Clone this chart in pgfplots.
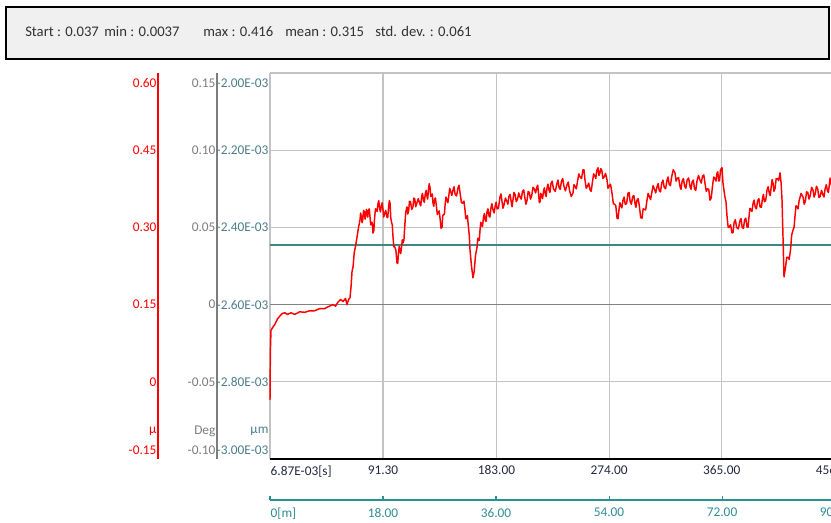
\documentclass[border=0pt]{standalone}
\usepackage{fontspec}
\setmainfont{Carlito}
\usepackage{pgfplots}
\pgfplotsset{compat=1.18}
\definecolor{gridc}{RGB}{195,195,195}
\definecolor{darkgrid}{RGB}{130,130,130}
\definecolor{tealline}{RGB}{62,135,135}
\definecolor{umc}{RGB}{75,125,140}
\definecolor{degc}{RGB}{125,125,125}
\definecolor{mteal}{RGB}{40,145,145}
\definecolor{mlab}{RGB}{50,140,150}
\definecolor{xlab}{RGB}{35,40,65}
\definecolor{hdrbg}{RGB}{240,240,240}
\definecolor{hdrtext}{RGB}{50,50,50}
\begin{document}
\begin{tikzpicture}
\useasboundingbox (0,0) rectangle (623.25pt,-392.25pt);
\draw[line width=1.5pt, fill=hdrbg] (4.5pt,-5.25pt) rectangle (621.75pt,-44.6pt);
\begin{scope}[every node/.style={anchor=base west, inner sep=0pt, font=\fontsize{11}{13}\selectfont, text=hdrtext}]
\node at (18.75pt,-27.75pt) {Start : 0.037};
\node at (78pt,-27.75pt) {min : 0.0037};
\node at (152.25pt,-27.75pt) {max : 0.416};
\node at (213.75pt,-27.75pt) {mean : 0.315};
\node at (281.25pt,-27.75pt) {std. dev. : 0.061};
\end{scope}
% red scale
\begin{axis}[at={(118.5pt,-344.25pt)}, anchor=south west, scale only axis,
  width=1pt, height=289.5pt, xmin=0, xmax=1, ymin=-0.15, ymax=0.6,
  axis x line=none, axis y line=left,
  axis line style={-, draw=red, line width=1.2pt},
  ytick={-0.1325,-0.0956,0,0.15,0.3,0.45,0.5806},
  yticklabels={-0.15,μ,0,0.15,0.30,0.45,0.60},
  yticklabel style={text=red, font=\fontsize{10}{12}\selectfont, inner xsep=1pt},
  major tick length=0pt, ytick style={draw=none}]
\end{axis}
% degree scale
\begin{axis}[at={(162.75pt,-344.25pt)}, anchor=south west, scale only axis,
  width=1pt, height=289.5pt, xmin=0, xmax=1, ymin=-0.15, ymax=0.6,
  axis x line=none, axis y line=left,
  axis line style={-, draw=degc, line width=0.9pt},
  ytick={-0.1325,-0.0956,0,0.15,0.3,0.45,0.5806},
  yticklabels={-0.10,Deg,-0.05,0,0.05,0.10,0.15},
  yticklabel style={text=degc, font=\fontsize{10}{12}\selectfont, inner xsep=1pt},
  major tick length=0pt, ytick style={draw=none}]
\end{axis}
% main axis
\begin{axis}[at={(202.5pt,-344.25pt)}, anchor=south west, scale only axis,
  width=427pt, height=289.5pt, xmin=0, xmax=460, ymin=-0.15, ymax=0.6,
  clip=false, axis line style={draw=none}, major tick length=0pt,
  tick style={draw=none},
  xtick={91.3,183,274,365,456},
  xticklabels={91.30,183.00,274.00,365.00,456.00},
  extra x ticks={0}, extra x tick labels={6.87E-03[s]},
  extra x tick style={xticklabel style={anchor=north west, xshift=-3pt}, xmajorgrids=false},
  xmajorgrids, major grid style={gridc, line width=0.9pt},
  xticklabel style={text=xlab, font=\fontsize{10}{12}\selectfont, yshift=-1.5pt},
  ytick={-0.1325,-0.0956,0,0.15,0.3,0.45,0.5806},
  yticklabels={-3.00E-03,μm,-2.80E-03,-2.60E-03,-2.40E-03,-2.20E-03,-2.00E-03},
  yticklabel style={text=umc, font=\fontsize{10}{12}\selectfont, inner xsep=1pt}]
\addplot[gridc, line width=0.9pt] coordinates {(0,0.6)(460,0.6)};
\addplot[gridc, line width=0.9pt] coordinates {(0,0.45)(460,0.45)};
\addplot[gridc, line width=0.9pt] coordinates {(0,0.3)(460,0.3)};
\addplot[gridc, line width=0.9pt] coordinates {(0,0)(460,0)};
\addplot[gridc, line width=0.9pt] coordinates {(0,-0.15)(0,0.6)};
\addplot[darkgrid, line width=1.3pt] coordinates {(0,0.15)(460,0.15)};
\addplot[black, line width=1.1pt] coordinates {(0,-0.15)(460,-0.15)};
\addplot[tealline, line width=1.2pt] coordinates {(0,0.266)(460,0.266)};
\addplot[red, line width=1.1pt, line join=round] table[row sep=\\] {
x y\\
0 -0.035\\ 0.3 0.06\\ 0.8 0.100\\ 2 0.105\\ 4 0.112\\ 6 0.122\\ 8 0.128\\ 10 0.133\\
12 0.134\\ 14 0.131\\ 17 0.134\\ 20 0.131\\ 24 0.136\\ 28 0.135\\ 32 0.138\\ 36 0.138\\
40 0.142\\ 44 0.142\\ 48 0.147\\ 51 0.150\\ 53 0.147\\ 55 0.155\\ 57 0.160\\ 59 0.156\\
61 0.162\\ 62.2 0.150\\ 63.5 0.160\\ 64.6 0.163\\ 65.5 0.185\\ 66.3 0.215\\ 67.1 0.223\\
68 0.250\\ 69 0.262\\ 70.3 0.281\\ 71.5 0.300\\ 72.7 0.314\\ 73.2 0.328\\ 73.8 0.322\\
74.4 0.309\\ 75 0.316\\ 75.6 0.333\\ 76.2 0.330\\ 76.8 0.316\\ 77.3 0.322\\ 77.9 0.335\\
78.4 0.328\\ 79 0.320\\ 79.5 0.333\\ 80.2 0.336\\ 80.8 0.320\\ 81.4 0.305\\ 82 0.310\\
82.6 0.309\\ 83.2 0.289\\ 83.9 0.294\\ 84.5 0.318\\ 85.2 0.336\\ 85.8 0.335\\ 86.5 0.331\\
87.3 0.347\\ 87.9 0.352\\ 88.5 0.338\\ 89.2 0.330\\ 90 0.342\\ 90.6 0.348\\ 91.3 0.334\\
91.9 0.320\\ 92.5 0.326\\ 93.5 0.333\\ 94.5 0.320\\ 95.1 0.319\\ 95.8 0.338\\ 96.4 0.352\\
97 0.347\\ 97.6 0.318\\ 98.2 0.310\\ 98.8 0.305\\ 99.4 0.281\\ 100.1 0.262\\ 100.8 0.262\\
101.7 0.256\\ 102.6 0.231\\ 103.2 0.230\\ 103.8 0.250\\ 104.4 0.263\\ 105 0.256\\ 105.6 0.249\\
106.3 0.262\\ 106.9 0.276\\ 107.5 0.270\\ 108.2 0.275\\ 108.8 0.300\\ 109.7 0.330\\ 110.7 0.340\\
111.3 0.326\\ 112 0.332\\ 112.7 0.351\\ 113.5 0.350\\ 114.5 0.335\\ 115.5 0.340\\ 116.2 0.357\\
117 0.355\\ 117.7 0.340\\ 118.5 0.346\\ 119.8 0.356\\ 121.2 0.345\\ 121.8 0.342\\ 122.5 0.360\\
123.2 0.366\\ 124 0.352\\ 124.7 0.349\\ 125.5 0.366\\ 126.2 0.372\\ 126.9 0.359\\ 127.4 0.355\\
128 0.372\\ 128.6 0.385\\ 129.3 0.377\\ 129.9 0.360\\ 130.5 0.362\\ 131.1 0.365\\ 131.7 0.347\\
132.3 0.341\\ 133 0.355\\ 133.7 0.357\\ 134.5 0.340\\ 135.2 0.325\\ 136 0.330\\ 136.7 0.332\\
137.5 0.315\\ 138.2 0.298\\ 139 0.301\\ 139.6 0.323\\ 140.3 0.325\\ 140.9 0.325\\ 141.5 0.345\\
142.2 0.359\\ 143 0.353\\ 143.7 0.348\\ 144.5 0.362\\ 145.2 0.376\\ 146 0.370\\ 146.9 0.362\\
147.9 0.373\\ 148.7 0.379\\ 149.5 0.365\\ 150.7 0.361\\ 151.9 0.377\\ 152.7 0.382\\ 153.5 0.368\\
154.7 0.348\\ 155.9 0.347\\ 156.7 0.351\\ 157.5 0.335\\ 158.2 0.317\\ 159 0.318\\ 159.5 0.323\\
160 0.309\\ 161 0.285\\ 161.6 0.256\\ 162.8 0.225\\ 164 0.202\\ 165 0.215\\ 166 0.245\\
167.3 0.262\\ 167.9 0.279\\ 168.5 0.275\\ 169.1 0.275\\ 169.7 0.295\\ 170.3 0.310\\ 171 0.305\\
171.7 0.302\\ 172.5 0.320\\ 173.2 0.327\\ 174 0.313\\ 174.6 0.312\\ 175.3 0.330\\ 176.1 0.336\\
177 0.322\\ 177.7 0.320\\ 178.5 0.338\\ 179.3 0.346\\ 180.2 0.334\\ 181.1 0.328\\ 182 0.342\\
182.7 0.349\\ 183.5 0.336\\ 184.6 0.337\\ 185.8 0.359\\ 186.6 0.365\\ 187.5 0.350\\ 188.2 0.337\\
189 0.343\\ 190.2 0.357\\ 191.5 0.350\\ 192.2 0.345\\ 193 0.360\\ 194 0.364\\ 195 0.348\\
195.6 0.340\\ 196.3 0.353\\ 197.1 0.368\\ 198 0.364\\ 199 0.350\\ 200 0.355\\ 201 0.367\\
202 0.359\\ 203 0.355\\ 204 0.370\\ 205 0.373\\ 206 0.356\\ 206.8 0.345\\ 207.7 0.353\\
208.6 0.370\\ 209.5 0.368\\ 210.5 0.355\\ 211.5 0.362\\ 212.5 0.378\\ 213.5 0.375\\ 214.6 0.367\\
215.7 0.379\\ 216.3 0.382\\ 217 0.365\\ 217.6 0.348\\ 218.2 0.350\\ 218.8 0.366\\ 219.5 0.362\\
220.2 0.356\\ 221 0.370\\ 221.7 0.377\\ 222.5 0.364\\ 223.1 0.360\\ 223.8 0.376\\ 224.6 0.384\\
225.5 0.372\\ 226.2 0.368\\ 227 0.385\\ 228 0.390\\ 229 0.375\\ 230.5 0.370\\ 231.9 0.386\\
232.7 0.392\\ 233.5 0.378\\ 234.5 0.374\\ 235.5 0.390\\ 236.5 0.395\\ 237.5 0.380\\ 238.7 0.371\\
240 0.383\\ 241 0.388\\ 242 0.372\\ 243.4 0.360\\ 244.8 0.367\\ 245.6 0.383\\ 246.5 0.380\\
247.5 0.375\\ 248.5 0.390\\ 249.5 0.404\\ 250.5 0.398\\ 251.7 0.395\\ 252.9 0.412\\ 253.7 0.412\\
254.5 0.392\\ 255.5 0.376\\ 256.5 0.380\\ 257.5 0.386\\ 258.6 0.373\\ 259.5 0.370\\ 260.5 0.388\\
261.5 0.404\\ 262.5 0.400\\ 263.2 0.395\\ 264 0.410\\ 265 0.416\\ 265.7 0.401\\ 266.5 0.405\\
267.2 0.414\\ 268 0.412\\ 269 0.395\\ 270 0.398\\ 271.1 0.405\\ 272.3 0.392\\ 273.1 0.376\\
274 0.380\\ 275.1 0.384\\ 276.3 0.367\\ 277.4 0.346\\ 278.5 0.345\\ 279.4 0.342\\ 280.4 0.318\\
281.2 0.317\\ 282 0.335\\ 282.7 0.348\\ 283.5 0.342\\ 284.3 0.338\\ 285.2 0.353\\ 286.1 0.359\\
287 0.345\\ 288.1 0.346\\ 289.3 0.367\\ 290.1 0.368\\ 291 0.350\\ 292 0.345\\ 293 0.360\\
294 0.362\\ 295 0.345\\ 295.7 0.339\\ 296.5 0.353\\ 297.5 0.356\\ 298.5 0.340\\ 299.5 0.319\\
300.6 0.318\\ 301.5 0.336\\ 302.5 0.335\\ 303.5 0.334\\ 304.6 0.353\\ 305.5 0.366\\ 306.5 0.360\\
307.5 0.354\\ 308.5 0.368\\ 309.5 0.381\\ 310.5 0.375\\ 311.6 0.367\\ 312.7 0.379\\ 313.6 0.385\\
314.5 0.372\\ 315.5 0.369\\ 316.5 0.386\\ 317.5 0.392\\ 318.5 0.378\\ 319.6 0.375\\ 320.8 0.392\\
321.6 0.398\\ 322.5 0.384\\ 323.5 0.381\\ 324.5 0.398\\ 325.8 0.412\\ 327.2 0.406\\ 328.1 0.390\\
329 0.395\\ 330.1 0.397\\ 331.3 0.379\\ 332.1 0.374\\ 333 0.390\\ 334 0.395\\ 335 0.380\\
336 0.376\\ 337 0.392\\ 338.2 0.396\\ 339.4 0.379\\ 340.2 0.374\\ 341 0.388\\ 342 0.392\\
343 0.375\\ 344 0.372\\ 345 0.390\\ 346.2 0.401\\ 347.4 0.392\\ 348.4 0.386\\ 349.5 0.400\\
350.5 0.402\\ 351.5 0.385\\ 352.5 0.370\\ 353.5 0.375\\ 354.5 0.374\\ 355.5 0.353\\ 356.5 0.357\\
357.5 0.380\\ 358.5 0.398\\ 359.5 0.395\\ 360.3 0.390\\ 361.2 0.406\\ 361.8 0.408\\ 362.5 0.390\\
363.2 0.391\\ 364 0.412\\ 365.2 0.416\\ 366 0.386\\ 367.5 0.360\\ 368.4 0.350\\ 369.3 0.320\\
370.2 0.300\\ 371 0.300\\ 372.1 0.305\\ 373.3 0.289\\ 374.1 0.290\\ 375 0.310\\ 376 0.315\\
377 0.300\\ 378.4 0.297\\ 379.8 0.314\\ 380.6 0.317\\ 381.5 0.300\\ 382.5 0.298\\ 383.5 0.315\\
384.4 0.318\\ 385.4 0.301\\ 386.2 0.300\\ 387 0.320\\ 387.7 0.337\\ 388.5 0.335\\ 389.4 0.331\\
390.3 0.347\\ 391.1 0.353\\ 392 0.340\\ 393 0.336\\ 394 0.352\\ 395 0.356\\ 395.9 0.340\\
397 0.339\\ 398 0.358\\ 398.7 0.364\\ 399.5 0.350\\ 400.5 0.352\\ 401.6 0.373\\ 402.5 0.379\\
403.5 0.365\\ 404.2 0.362\\ 405 0.380\\ 405.7 0.393\\ 406.4 0.386\\ 407.2 0.370\\ 408 0.375\\
409 0.395\\ 410 0.395\\ 411 0.391\\ 412.1 0.406\\ 413 0.385\\ 413.7 0.353\\ 414.5 0.280\\
415.3 0.204\\ 416.5 0.222\\ 417.5 0.242\\ 418.5 0.242\\ 419.5 0.238\\ 420.5 0.255\\ 421.5 0.285\\
422.6 0.295\\ 423.4 0.300\\ 424.3 0.325\\ 425 0.342\\ 425.8 0.340\\ 426.6 0.336\\ 427.5 0.352\\
429.1 0.366\\ 430.7 0.359\\ 431.6 0.345\\ 432.5 0.350\\ 433.5 0.369\\ 434.5 0.368\\ 435.5 0.355\\
436.5 0.362\\ 437.6 0.378\\ 438.7 0.373\\ 439.6 0.359\\ 440.5 0.365\\ 441.5 0.380\\ 442.5 0.375\\
443.5 0.358\\ 444.5 0.360\\ 445.6 0.372\\ 446.8 0.363\\ 447.6 0.359\\ 448.5 0.375\\ 449.5 0.383\\
450.5 0.370\\ 451.2 0.368\\ 452 0.385\\ 452.6 0.396\\ 453.3 0.386\\ 454.4 0.373\\ 455.5 0.380\\
456.8 0.394\\ 458 0.388\\ 459 0.378\\ 460 0.383\\
};
\end{axis}
% metre scale
\begin{axis}[at={(202.5pt,-375pt)}, anchor=south west, scale only axis,
  width=427pt, height=1pt, xmin=0, xmax=90.68, ymin=0, ymax=1,
  axis y line=none, axis x line=bottom,
  axis line style={-, draw=mteal, line width=1.1pt},
  xtick={18,36,54,72,90},
  xticklabels={18.00,36.00,54.00,72.00,90.00},
  extra x ticks={0}, extra x tick labels={0[m]},
  extra x tick style={xticklabel style={anchor=north west, xshift=-3pt}},
  xtick align=inside, major tick length=3pt,
  tick style={draw=mteal, line width=0.8pt},
  xticklabel style={text=mlab, font=\fontsize{10}{12}\selectfont, yshift=-2.5pt}]
\end{axis}
\end{tikzpicture}
\end{document}
